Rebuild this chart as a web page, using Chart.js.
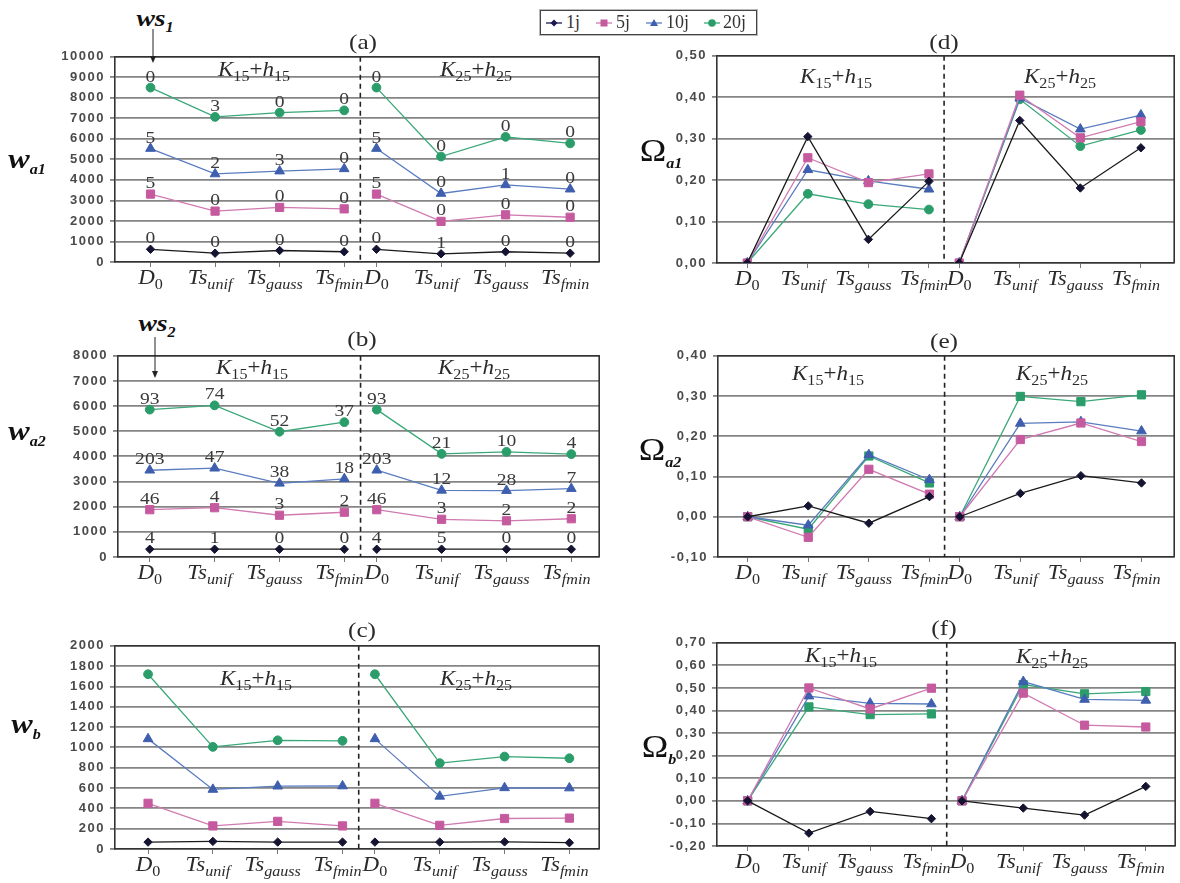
<!DOCTYPE html>
<html><head><meta charset="utf-8">
<script src="https://cdn.jsdelivr.net/npm/chart.js@4.4.1/dist/chart.umd.min.js"></script>
<style>
html,body{margin:0;padding:0;background:#fff;}
#page{position:relative;width:1180px;height:883px;overflow:hidden;background:#fff;}
#page canvas{position:absolute;}
.t{position:absolute;transform:translate(-50%,-50%) scaleX(1.15);white-space:nowrap;font-family:'Liberation Serif','Times New Roman',serif;line-height:1;color:#2a2a2a;}
.t sub{line-height:0;}
.ttl{font-size:22px;}
.k{font-size:20px;}
.k sub{font-size:14px;vertical-align:-5px;}
.w{font-size:28px;font-weight:bold;font-style:italic;color:#111;}
.w sub{font-size:14px;vertical-align:-6px;}
.om{font-size:31px;color:#111;}
.om sub{font-size:14px;font-weight:bold;font-style:italic;vertical-align:-7px;}
#legend{position:absolute;left:540px;top:10px;width:215px;height:23px;border:1.5px solid #444;box-shadow:0 0 0 1px #bbb;}
.li{position:absolute;top:0;height:23px;line-height:23px;font-family:'Liberation Serif',serif;font-size:18px;color:#333;}
#ov{position:absolute;left:0;top:0;pointer-events:none;}
</style></head><body><div id="page">
<canvas id="ca"></canvas><canvas id="cb"></canvas><canvas id="cc"></canvas>
<canvas id="cd"></canvas><canvas id="ce"></canvas><canvas id="cf"></canvas>

<div class="t ttl" style="left:363px;top:42px">(a)</div>
<div class="t ttl" style="left:362px;top:339px">(b)</div>
<div class="t ttl" style="left:362px;top:630px">(c)</div>
<div class="t ttl" style="left:944px;top:42px">(d)</div>
<div class="t ttl" style="left:944px;top:341px">(e)</div>
<div class="t ttl" style="left:944px;top:628px">(f)</div>

<div class="t k" style="left:254px;top:69px"><i>K</i><sub>15</sub>+<i>h</i><sub>15</sub></div>
<div class="t k" style="left:476px;top:69px"><i>K</i><sub>25</sub>+<i>h</i><sub>25</sub></div>
<div class="t k" style="left:252px;top:367px"><i>K</i><sub>15</sub>+<i>h</i><sub>15</sub></div>
<div class="t k" style="left:474px;top:367px"><i>K</i><sub>25</sub>+<i>h</i><sub>25</sub></div>
<div class="t k" style="left:256px;top:678px"><i>K</i><sub>15</sub>+<i>h</i><sub>15</sub></div>
<div class="t k" style="left:476px;top:678px"><i>K</i><sub>25</sub>+<i>h</i><sub>25</sub></div>
<div class="t k" style="left:836px;top:76px"><i>K</i><sub>15</sub>+<i>h</i><sub>15</sub></div>
<div class="t k" style="left:1060px;top:76px"><i>K</i><sub>25</sub>+<i>h</i><sub>25</sub></div>
<div class="t k" style="left:828px;top:373px"><i>K</i><sub>15</sub>+<i>h</i><sub>15</sub></div>
<div class="t k" style="left:1052px;top:373px"><i>K</i><sub>25</sub>+<i>h</i><sub>25</sub></div>
<div class="t k" style="left:841px;top:655px"><i>K</i><sub>15</sub>+<i>h</i><sub>15</sub></div>
<div class="t k" style="left:1052px;top:656px"><i>K</i><sub>25</sub>+<i>h</i><sub>25</sub></div>

<div class="t w" style="left:27px;top:159px">w<sub>a1</sub></div>
<div class="t w" style="left:27px;top:431px">w<sub>a2</sub></div>
<div class="t w" style="left:26px;top:724px">w<sub>b</sub></div>
<div class="t om" style="left:661px;top:150px">Ω<sub>a1</sub></div>
<div class="t om" style="left:660px;top:449px">Ω<sub>a2</sub></div>
<div class="t om" style="left:659px;top:746px">Ω<sub>b</sub></div>

<div class="t w" style="left:155px;top:18px;font-size:24px">ws<sub>1</sub></div>
<div class="t w" style="left:157px;top:323px;font-size:24px">ws<sub>2</sub></div>

<div id="legend">
  <svg style="position:absolute;left:3px;top:4px" width="20" height="16"><line x1="2" y1="8" x2="18" y2="8" stroke="#1a1a50" stroke-width="1.3"/><polygon points="10,4.5 13.5,8 10,11.5 6.5,8" fill="#1a1a50"/></svg>
  <div class="li" style="left:25px">1j</div>
  <svg style="position:absolute;left:53px;top:4px" width="20" height="16"><line x1="2" y1="8" x2="18" y2="8" stroke="#d07ab0" stroke-width="1.3"/><rect x="6.5" y="4.5" width="7" height="7" fill="#c65a9f"/></svg>
  <div class="li" style="left:75px">5j</div>
  <svg style="position:absolute;left:103px;top:4px" width="20" height="16"><line x1="2" y1="8" x2="18" y2="8" stroke="#5a7cc0" stroke-width="1.3"/><polygon points="10,4 14,11 6,11" fill="#3f5fae"/></svg>
  <div class="li" style="left:125px">10j</div>
  <svg style="position:absolute;left:161px;top:4px" width="20" height="16"><line x1="2" y1="8" x2="18" y2="8" stroke="#3aa878" stroke-width="1.3"/><circle cx="10" cy="8" r="3.8" fill="#2a9d6a"/></svg>
  <div class="li" style="left:182px">20j</div>
</div>

<svg id="ov" width="1180" height="883">
  <line x1="153" y1="29" x2="153" y2="58" stroke="#222" stroke-width="1"/>
  <polygon points="150,56 156,56 153,63" fill="#222"/>
  <line x1="155" y1="337" x2="155" y2="373" stroke="#222" stroke-width="1"/>
  <polygon points="152,371 158,371 155,378" fill="#222"/>
</svg>
</div>
<script>
// ---------- data ----------
const categories = ['D_0', 'Ts_unif', 'Ts_gauss', 'Ts_fmin'];
const groups = ['K15+h15', 'K25+h25'];
const seriesNames = ['1j', '5j', '10j', '20j'];

// (a) w_a1
const wa1_1j  = [620, 430, 560, 500, 620, 400, 500, 430];
const wa1_5j  = [3310, 2480, 2660, 2590, 3310, 1980, 2300, 2180];
const wa1_10j = [5530, 4290, 4430, 4540, 5530, 3340, 3760, 3550];
const wa1_20j = [8500, 7070, 7280, 7390, 8500, 5140, 6100, 5780];
const ws1_1j  = [0, 0, 0, 0, 0, 1, 0, 0];
const ws1_5j  = [5, 0, 0, 0, 5, 0, 0, 0];
const ws1_10j = [5, 2, 3, 0, 5, 0, 1, 0];
const ws1_20j = [0, 3, 0, 0, 0, 0, 0, 0];

// (b) w_a2
const wa2_1j  = [310, 310, 310, 310, 310, 310, 310, 310];
const wa2_5j  = [1880, 1960, 1660, 1780, 1880, 1500, 1440, 1520];
const wa2_10j = [3450, 3530, 2930, 3110, 3450, 2650, 2640, 2720];
const wa2_20j = [5860, 6030, 4980, 5360, 5860, 4100, 4180, 4090];
const ws2_1j  = [4, 1, 0, 0, 4, 5, 0, 0];
const ws2_5j  = [46, 4, 3, 2, 46, 3, 2, 2];
const ws2_10j = [203, 47, 38, 18, 203, 12, 28, 7];
const ws2_20j = [93, 74, 52, 37, 93, 21, 10, 4];

// (c) w_b
const wb_1j  = [68, 75, 68, 68, 68, 68, 70, 62];
const wb_5j  = [450, 227, 272, 227, 450, 233, 300, 304];
const wb_10j = [1084, 586, 618, 620, 1084, 518, 602, 600];
const wb_20j = [1720, 1005, 1070, 1065, 1720, 845, 910, 893];

// (d) Omega_a1
const oa1_1j  = [0, 0.305, 0.057, 0.197, 0, 0.344, 0.181, 0.278];
const oa1_5j  = [0, 0.254, 0.194, 0.215, 0, 0.405, 0.302, 0.341];
const oa1_10j = [0, 0.225, 0.198, 0.178, 0, 0.398, 0.323, 0.357];
const oa1_20j = [0, 0.167, 0.142, 0.129, 0, 0.395, 0.282, 0.321];

// (e) Omega_a2
const oa2_1j  = [0, 0.027, -0.016, 0.050, 0, 0.058, 0.102, 0.084];
const oa2_5j  = [0, -0.051, 0.118, 0.056, 0, 0.192, 0.233, 0.187];
const oa2_10j = [0, -0.021, 0.154, 0.092, 0, 0.232, 0.236, 0.213];
const oa2_20j = [0, -0.031, 0.151, 0.084, 0, 0.299, 0.286, 0.303];

// (f) Omega_b
const ob_1j  = [0, -0.143, -0.047, -0.079, 0, -0.032, -0.063, 0.064];
const ob_5j  = [0, 0.500, 0.407, 0.499, 0, 0.477, 0.335, 0.327];
const ob_10j = [0, 0.464, 0.432, 0.429, 0, 0.528, 0.449, 0.445];
const ob_20j = [0, 0.416, 0.382, 0.385, 0, 0.515, 0.474, 0.484];

// y tick values
const ticksWa1 = [0, 1000, 2000, 3000, 4000, 5000, 6000, 7000, 8000, 9000, 10000];
const ticksWa2 = [0, 1000, 2000, 3000, 4000, 5000, 6000, 7000, 8000];
const ticksWb  = [0, 200, 400, 600, 800, 1000, 1200, 1400, 1600, 1800, 2000];
const ticksOa1 = [0, 0.1, 0.2, 0.3, 0.4, 0.5];
const ticksOa2 = [-0.1, 0, 0.1, 0.2, 0.3, 0.4];
const ticksOb  = [-0.2, -0.1, 0, 0.1, 0.2, 0.3, 0.4, 0.5, 0.6, 0.7];

// ---------- styles ----------
const styles = [
  {line:'#1a1a1a', fill:'#141432', shape:'rectRot', r:4.2},
  {line:'#d07ab0', fill:'#c65a9f', shape:'rect', r:5.8},
  {line:'#5a7cc0', fill:'#3f5fae', shape:'triangle', r:5.6},
  {line:'#3aa878', fill:'#2a9d6a', shape:'circle', r:4.4}
];
const SX = 1.15;
const SERIF = '"Liberation Serif", "Times New Roman", serif';

function drawRich(ctx, parts, cx, by, color){
  ctx.save();
  ctx.translate(cx, by); ctx.scale(SX, 1);
  let w = 0;
  for (const p of parts){ ctx.font = p.font; w += ctx.measureText(p.text).width; }
  let x = -w/2;
  ctx.fillStyle = color; ctx.textBaseline = 'alphabetic'; ctx.textAlign = 'left';
  for (const p of parts){ ctx.font = p.font; ctx.fillText(p.text, x, p.dy || 0); x += ctx.measureText(p.text).width; }
  ctx.restore();
}

const panelPlugin = {
  id: 'panel',
  beforeDraw(chart){ chart.ctx.letterSpacing = '1.5px'; },
  beforeDatasetsDraw(chart){
    const ctx = chart.ctx, a = chart.chartArea, xs = chart.scales.x;
    ctx.letterSpacing = '0px';
    const dx = xs.getPixelForValue(chart.options.plugins.panel.divider);
    ctx.save();
    ctx.strokeStyle = '#222'; ctx.lineWidth = 1.6; ctx.setLineDash([5, 4]);
    ctx.beginPath(); ctx.moveTo(dx, a.top); ctx.lineTo(dx, a.bottom); ctx.stroke();
    ctx.restore();
  },
  afterDraw(chart){
    const ctx = chart.ctx, a = chart.chartArea, xs = chart.scales.x;
    const o = chart.options.plugins.panel;
    ctx.letterSpacing = '0px';
    ctx.save();
    ctx.strokeStyle = '#333'; ctx.lineWidth = 1.6;
    ctx.beginPath(); ctx.moveTo(a.left, a.top); ctx.lineTo(a.right, a.top); ctx.lineTo(a.right, a.bottom); ctx.stroke();
    ctx.restore();
    o.xvals.forEach((v, i) => {
      const lab = categories[i % 4].split('_');
      const isD = lab[0] === 'D';
      const parts = [
        {text: lab[0], font: 'italic 20px ' + SERIF},
        {text: lab[1], font: (isD ? '' : 'italic ') + '14px ' + SERIF, dy: 5}
      ];
      drawRich(ctx, parts, xs.getPixelForValue(v) + (isD ? 0 : -5), a.bottom + 22, '#2a2a2a');
    });
    if (o.pointLabels){
      o.pointLabels.forEach((arr, si) => {
        const meta = chart.getDatasetMeta(si);
        arr.forEach((val, j) => {
          const el = meta.data[j < 4 ? j : j + 1];
          drawRich(ctx, [{text: String(val), font: '17px ' + SERIF}], el.x, el.y - 6, '#3a3a3a');
        });
      });
    }
  }
};

function fmtInt(v){ return String(Math.round(v)); }
function fmtDec(v){ if (Math.abs(v) < 1e-9) v = 0; return v.toFixed(2).replace('.', ','); }

function buildPanel(cfg){
  const ywidth = 75, top = 10, right = 4, xh = 42;
  const cv = document.getElementById(cfg.id);
  const cl = cfg.L - ywidth, ct = cfg.T - top;
  const cw = cfg.R - cl + right, ch = cfg.B - ct + xh;
  cv.width = cw; cv.height = ch;
  cv.style.left = cl + 'px'; cv.style.top = ct + 'px';
  cv.style.width = cw + 'px'; cv.style.height = ch + 'px';
  const xvals = [];
  for (let g = 0; g < groups.length; g++) for (let i = 0; i < categories.length; i++) xvals.push(i + g * 3.5);
  const datasets = cfg.series.map((vals, si) => {
    const st = styles[si];
    const shape = (si === 3 && cfg.greenRect) ? 'rect' : st.shape;
    const r = (si === 3 && cfg.greenRect) ? 5.8 : st.r;
    const pts = [];
    vals.forEach((y, j) => {
      if (j === 4) pts.push({x: 3.25, y: null});
      pts.push({x: xvals[j], y: y});
    });
    return {
      label: seriesNames[si], data: pts,
      borderColor: st.line, borderWidth: 1.3,
      pointStyle: shape, pointRadius: r, pointHoverRadius: r,
      pointBackgroundColor: st.fill, pointBorderColor: st.fill, pointBorderWidth: 1,
      spanGaps: false, tension: 0, fill: false
    };
  });
  new Chart(cv, {
    type: 'line',
    data: {datasets},
    options: {
      responsive: false, animation: false, devicePixelRatio: 1,
      layout: {padding: {left: 0, top: top, right: right, bottom: 0}},
      plugins: {
        legend: {display: false}, tooltip: {enabled: false},
        panel: {divider: 3.25, xvals: xvals, pointLabels: cfg.pointLabels}
      },
      scales: {
        x: {
          type: 'linear', min: cfg.xmin, max: cfg.xmax,
          afterBuildTicks: s => { s.ticks = xvals.map(v => ({value: v})); },
          afterFit: s => { s.height = xh; },
          ticks: {display: false},
          grid: {drawOnChartArea: false, drawTicks: true, tickLength: 5, color: '#777', lineWidth: 1},
          border: {display: true, color: '#333', width: 1.6}
        },
        y: {
          type: 'linear', min: cfg.yticks[0], max: cfg.yticks[cfg.yticks.length - 1],
          afterBuildTicks: s => { s.ticks = cfg.yticks.map(v => ({value: v})); },
          afterFit: s => { s.width = ywidth; },
          ticks: {
            callback: v => cfg.fmt(v), padding: 5, color: '#4a4a4a',
            font: {family: '"Liberation Sans", Arial, sans-serif', size: 13, weight: 'bold'}
          },
          grid: {color: '#858585', lineWidth: 1.8, drawTicks: true, tickLength: 5},
          border: {display: true, color: '#333', width: 1.6}
        }
      }
    },
    plugins: [panelPlugin]
  });
}

buildPanel({id:'ca', L:115, R:602, T:54, B:262, xmin:-0.55, xmax:6.95, yticks:ticksWa1, fmt:fmtInt,
  series:[wa1_1j, wa1_5j, wa1_10j, wa1_20j], pointLabels:[ws1_1j, ws1_5j, ws1_10j, ws1_20j]});
buildPanel({id:'cb', L:118, R:602, T:353, B:557, xmin:-0.49, xmax:6.93, yticks:ticksWa2, fmt:fmtInt,
  series:[wa2_1j, wa2_5j, wa2_10j, wa2_20j], pointLabels:[ws2_1j, ws2_5j, ws2_10j, ws2_20j]});
buildPanel({id:'cc', L:115, R:602, T:643, B:849, xmin:-0.51, xmax:6.96, yticks:ticksWb, fmt:fmtInt,
  series:[wb_1j, wb_5j, wb_10j, wb_20j]});
buildPanel({id:'cd', L:717, R:1177, T:53, B:263, xmin:-0.5, xmax:7.05, yticks:ticksOa1, fmt:fmtDec,
  series:[oa1_1j, oa1_5j, oa1_10j, oa1_20j]});
buildPanel({id:'ce', L:718, R:1177, T:353, B:557, xmin:-0.49, xmax:7.04, yticks:ticksOa2, fmt:fmtDec,
  series:[oa2_1j, oa2_5j, oa2_10j, oa2_20j], greenRect:true});
buildPanel({id:'cf', L:717, R:1178, T:640, B:846, xmin:-0.5, xmax:6.98, yticks:ticksOb, fmt:fmtDec,
  series:[ob_1j, ob_5j, ob_10j, ob_20j], greenRect:true});
</script>
</body></html>
